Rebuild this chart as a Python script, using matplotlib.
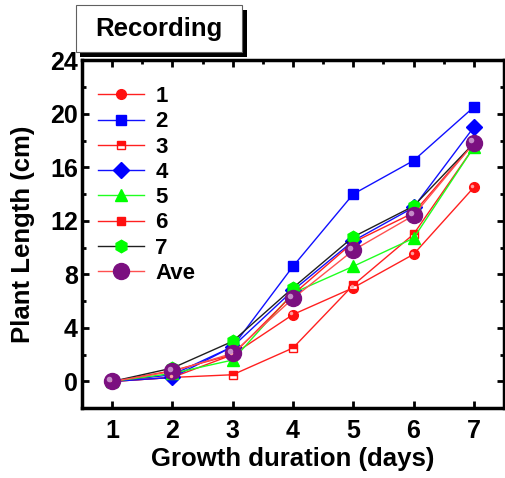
import numpy as np, matplotlib
matplotlib.use('Agg')
import matplotlib.pyplot as plt
from matplotlib.patches import Rectangle
from matplotlib.transforms import offset_copy

plt.rcParams.update({'font.family': ['Liberation Sans', 'DejaVu Sans'], 'font.weight': 'bold'})

days = [1, 2, 3, 4, 5, 6, 7]
s1 = [0, 0.3, 2.0, 5.0, 7.0, 9.5, 14.5]
s2 = [0, 0.5, 2.6, 8.6, 14.0, 16.5, 20.5]
s3 = [0, 0.3, 0.5, 2.5, 7.2, 11.0, 17.5]
s4 = [0, 0.3, 2.6, 6.8, 10.5, 13.0, 19.0]
s5 = [0, 0.6, 1.6, 6.6, 8.6, 10.7, 17.5]
s6 = [0, 0.8, 2.0, 6.5, 10.4, 12.6, 17.8]
s7 = [0, 1.0, 3.0, 7.0, 10.8, 13.1, 17.8]
ave = [0, 0.75, 2.1, 6.2, 9.8, 12.4, 17.8]
labels = ['1', '2', '3', '4', '5', '6', '7', 'Ave']
yticks = [0, 4, 8, 12, 16, 20, 24]

fig = plt.figure(figsize=(5.06, 4.78), dpi=100)
ax = fig.add_axes([0.162, 0.146, 0.834, 0.728])

styles = [
    (s1, dict(color='#ff2020', marker='o', ms=7, mfc='#ff1010', mec='#ff1010')),
    (s2, dict(color='#1010ff', marker='s', ms=6.5, mfc='#0000ff', mec='#0000ff')),
    (s3, dict(color='#ff2020', marker='s', ms=6, mfc='#ff1010', mec='#ff1010', fillstyle='top', markerfacecoloralt='white')),
    (s4, dict(color='#1010ff', marker='D', ms=8, mfc='#0000ff', mec='#0000ff')),
    (s5, dict(color='#20ff20', marker='^', ms=9, mfc='#00ff00', mec='#00ff00')),
    (s6, dict(color='#ff2020', marker='s', ms=6, mfc='#ff1010', mec='#ff1010')),
    (s7, dict(color='#202020', marker='h', ms=9, mfc='#00ff00', mec='#00ff00')),
    (ave, dict(color='#ff5050', marker='o', ms=11.5, mfc='#7b1080', mec='#7b1080')),
]
handles = []
for (ys, st), lab in zip(styles, labels):
    h, = ax.plot(days, ys, lw=1.0, label=lab, **st)
    handles.append(h)
# glossy highlights on the sphere markers
hl1 = offset_copy(ax.transData, fig=fig, x=-1.2, y=1.2, units='points')
hl2 = offset_copy(ax.transData, fig=fig, x=-2, y=2, units='points')
ax.plot(days, s1, ls='none', marker='o', ms=2.5, mfc='#ffa0a0', mec='none', transform=hl1)
ax.plot(days, ave, ls='none', marker='o', ms=4, mfc='#c48cc8', mec='none', transform=hl2)

ax.set_xlim(0.5, 7.5)
ax.set_ylim(-2, 24)
ax.set_xticks(days)
ax.set_yticks(yticks)
ax.set_yticks(np.arange(2, 24, 4), minor=True)
ax.set_xticks(np.arange(1.5, 7.5, 1), minor=True)
ax.tick_params(which='major', direction='in', length=5, width=2, labelsize=18,
               top=True, right=True)
ax.tick_params(axis='x', which='major', pad=8)
ax.tick_params(axis='y', which='major', pad=3)
ax.tick_params(which='minor', direction='in', length=3, width=2, top=True, right=True, bottom=False)
for t in ax.get_xticklabels() + ax.get_yticklabels():
    t.set_fontweight('bold')
for sp in ax.spines.values():
    sp.set_linewidth(2.5)
ax.set_xlabel('Growth duration (days)', fontsize=18.5, fontweight='bold', labelpad=3)
ax.set_ylabel('Plant Length (cm)', fontsize=18.5, fontweight='bold', labelpad=11)

leg = ax.legend(handles=handles, loc='upper left', bbox_to_anchor=(0.0, 0.97), frameon=False,
                prop={'size': 16, 'weight': 'bold'}, handlelength=2.1, handletextpad=0.5,
                labelspacing=0.19, borderaxespad=0.3)

# title box with shadow
W, H = 506, 478
def px(x0, y0, x1, y1, **kw):
    fig.patches.append(Rectangle((x0 / W, 1 - y1 / H), (x1 - x0) / W, (y1 - y0) / H,
                                 transform=fig.transFigure, **kw))
px(80, 10, 247, 57, facecolor='black', edgecolor='none')
px(76, 5, 242, 52, facecolor='white', edgecolor='#606060', lw=0.8)
fig.text(159 / W, 1 - 29 / H, 'Recording', ha='center', va='center', fontsize=18.5, fontweight='bold')

fig.savefig('out.png', dpi=100)
